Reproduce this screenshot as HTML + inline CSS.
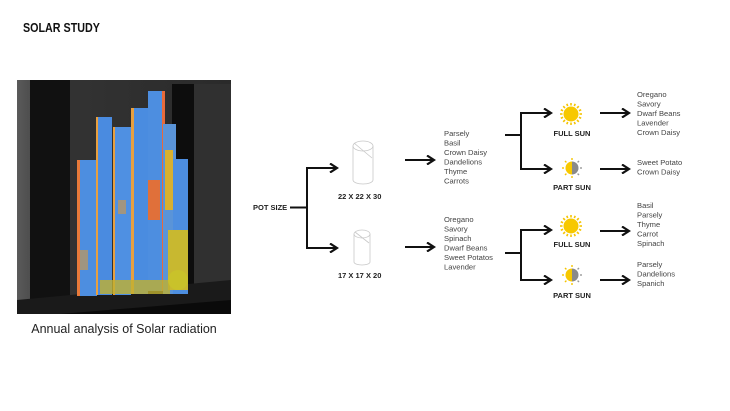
<!DOCTYPE html>
<html><head><meta charset="utf-8"><style>
html,body{margin:0;padding:0;background:#fff;}
body{width:730px;height:411px;overflow:hidden;position:relative;font-family:"Liberation Sans",sans-serif;}
svg{position:absolute;left:0;top:0;}
.l{font-size:7.6px;fill:#444;}
.b{font-size:7.5px;font-weight:bold;fill:#222;}
</style></head><body>
<svg width="730" height="411" viewBox="0 0 730 411">
<defs>
<linearGradient id="bg" x1="0" x2="1" y1="0" y2="0">
<stop offset="0" stop-color="#5a5a5a"/><stop offset="0.2" stop-color="#333"/><stop offset="1" stop-color="#2a2a2a"/>
</linearGradient>
<marker id="ah" markerWidth="10" markerHeight="10" refX="8" refY="5" orient="auto" markerUnits="userSpaceOnUse">
<path d="M1,0.5 L8,5 L1,9.5" fill="none" stroke="#111" stroke-width="2.2"/>
</marker>
<g id="sun">
<g stroke="#f5c400" stroke-width="1.6">
<line x1="0" y1="-11" x2="0" y2="-8.5"/><line x1="0" y1="11" x2="0" y2="8.5"/>
<line x1="-11" y1="0" x2="-8.5" y2="0"/><line x1="11" y1="0" x2="8.5" y2="0"/>
<line x1="-7.8" y1="-7.8" x2="-6" y2="-6"/><line x1="7.8" y1="7.8" x2="6" y2="6"/>
<line x1="-7.8" y1="7.8" x2="-6" y2="6"/><line x1="7.8" y1="-7.8" x2="6" y2="-6"/>
<line x1="-4.2" y1="-10.2" x2="-3.3" y2="-7.9"/><line x1="4.2" y1="-10.2" x2="3.3" y2="-7.9"/>
<line x1="-4.2" y1="10.2" x2="-3.3" y2="7.9"/><line x1="4.2" y1="10.2" x2="3.3" y2="7.9"/>
<line x1="-10.2" y1="-4.2" x2="-7.9" y2="-3.3"/><line x1="-10.2" y1="4.2" x2="-7.9" y2="3.3"/>
<line x1="10.2" y1="-4.2" x2="7.9" y2="-3.3"/><line x1="10.2" y1="4.2" x2="7.9" y2="3.3"/>
</g>
<circle r="7.5" fill="#f7c800"/>
</g>
<g id="psun">
<g stroke="#f5c400" stroke-width="1.4">
<line x1="0" y1="-10" x2="0" y2="-8"/><line x1="0" y1="10" x2="0" y2="8"/>
<line x1="-10" y1="0" x2="-8" y2="0"/>
<line x1="-7" y1="-7" x2="-5.6" y2="-5.6"/><line x1="-7" y1="7" x2="-5.6" y2="5.6"/>
</g>
<g stroke="#999" stroke-width="1.4">
<line x1="10" y1="0" x2="8" y2="0"/>
<line x1="7" y1="-7" x2="5.6" y2="-5.6"/><line x1="7" y1="7" x2="5.6" y2="5.6"/>
</g>
<path d="M0,-6.5 A6.5,6.5 0 0 0 0,6.5 Z" fill="#f7c800"/>
<path d="M0,-6.5 A6.5,6.5 0 0 1 0,6.5 Z" fill="#8a8a8a"/>
</g>
</defs>

<text x="23" y="32" font-size="12.5" font-weight="bold" fill="#111" transform="translate(23 0) scale(0.86 1) translate(-23 0)">SOLAR STUDY</text>

<!-- image -->
<rect x="17" y="80" width="214" height="234" fill="url(#bg)"/>
<rect x="30" y="80" width="40" height="234" fill="#111"/>
<rect x="172" y="84" width="22" height="230" fill="#0d0d0d"/>
<rect x="194" y="84" width="37" height="230" fill="#303030"/>
<polygon points="17,300 231,280 231,314 17,314" fill="#1a1a1a"/>
<polygon points="60,314 231,300 231,314" fill="#0a0a0a"/>
<g>
<rect x="77" y="160" width="20" height="136" fill="#4d8ee0"/>
<rect x="77" y="160" width="3" height="136" fill="#e87a3a"/>
<rect x="96" y="117" width="16" height="178" fill="#4a8be0"/>
<rect x="96" y="117" width="2" height="178" fill="#e8a040"/>
<rect x="113" y="127" width="18" height="168" fill="#4f90e2"/>
<rect x="113" y="127" width="2" height="168" fill="#e8a040"/>
<rect x="131" y="108" width="17" height="186" fill="#4a8ce0"/>
<rect x="131" y="108" width="3" height="186" fill="#e8a040"/>
<rect x="148" y="91" width="16" height="200" fill="#4d8ee0"/>
<rect x="162" y="91" width="3" height="200" fill="#e86a3a"/>
<rect x="163" y="124" width="13" height="170" fill="#5a94d8"/>
<rect x="173" y="159" width="15" height="135" fill="#4d8ee0"/>
<rect x="148" y="180" width="12" height="40" fill="#e0703a"/>
<rect x="165" y="150" width="8" height="60" fill="#d8b030"/>
<rect x="168" y="230" width="20" height="60" fill="#c8b830"/>
<rect x="100" y="280" width="70" height="14" fill="#c0b030" opacity="0.8"/>
<circle cx="178" cy="280" r="10" fill="#c9c22a"/>
<rect x="80" y="250" width="8" height="20" fill="#d89a40" opacity="0.6"/>
<rect x="118" y="200" width="8" height="14" fill="#d89a40" opacity="0.6"/>
</g>
<text x="124" y="333" font-size="12.5" fill="#222" text-anchor="middle">Annual analysis of Solar radiation</text>

<!-- left tree -->
<text x="253" y="210" class="b">POT SIZE</text>
<g fill="none" stroke="#111" stroke-width="2">
<line x1="290" y1="207.5" x2="307" y2="207.5"/>
<polyline points="335,168 307,168 307,248 335,248" stroke-linejoin="miter"/>
</g>
<g stroke="#111" stroke-width="2" fill="none">
<line x1="307" y1="168" x2="337" y2="168" marker-end="url(#ah)"/>
<line x1="307" y1="248" x2="337" y2="248" marker-end="url(#ah)"/>
<line x1="405" y1="160" x2="434" y2="160" marker-end="url(#ah)"/>
<line x1="405" y1="247" x2="434" y2="247" marker-end="url(#ah)"/>
</g>
<!-- cylinders -->
<g fill="none" stroke="#c8c8c8" stroke-width="0.8">
<ellipse cx="363" cy="146" rx="10" ry="5"/><line x1="353" y1="146" x2="353" y2="180"/><line x1="373" y1="146" x2="373" y2="180"/>
<path d="M353,180 A10,4 0 0 0 373,180"/><path d="M354,143 L372,158"/>
<ellipse cx="362" cy="234" rx="8" ry="4"/><line x1="354" y1="234" x2="354" y2="262"/><line x1="370" y1="234" x2="370" y2="262"/>
<path d="M354,262 A8,3 0 0 0 370,262"/><path d="M355,232 L369,243"/>
</g>
<text x="338" y="199" class="b">22 X 22 X 30</text>
<text x="338" y="278" class="b">17 X 17 X 20</text>

<text class="l"><tspan x="444" y="136">Parsely</tspan><tspan x="444" y="145.5">Basil</tspan><tspan x="444" y="155">Crown Daisy</tspan><tspan x="444" y="164.5">Dandelions</tspan><tspan x="444" y="174">Thyme</tspan><tspan x="444" y="183.5">Carrots</tspan></text>
<text class="l"><tspan x="444" y="222">Oregano</tspan><tspan x="444" y="231.5">Savory</tspan><tspan x="444" y="241">Spinach</tspan><tspan x="444" y="250.5">Dwarf Beans</tspan><tspan x="444" y="260">Sweet Potatos</tspan><tspan x="444" y="269.5">Lavender</tspan></text>

<!-- right trees -->
<g fill="none" stroke="#111" stroke-width="2">
<line x1="505" y1="135" x2="521" y2="135"/>
<polyline points="548,113 521,113 521,169 548,169"/>
<line x1="505" y1="253" x2="521" y2="253"/>
<polyline points="548,230 521,230 521,280 548,280"/>
</g>
<g stroke="#111" stroke-width="2">
<line x1="521" y1="113" x2="551" y2="113" marker-end="url(#ah)"/>
<line x1="521" y1="169" x2="551" y2="169" marker-end="url(#ah)"/>
<line x1="521" y1="230" x2="551" y2="230" marker-end="url(#ah)"/>
<line x1="521" y1="280" x2="551" y2="280" marker-end="url(#ah)"/>
<line x1="600" y1="113" x2="629" y2="113" marker-end="url(#ah)"/>
<line x1="600" y1="169" x2="629" y2="169" marker-end="url(#ah)"/>
<line x1="600" y1="231" x2="629" y2="231" marker-end="url(#ah)"/>
<line x1="600" y1="280" x2="629" y2="280" marker-end="url(#ah)"/>
</g>
<use href="#sun" x="571" y="114"/>
<use href="#psun" x="572" y="168"/>
<use href="#sun" x="571" y="226"/>
<use href="#psun" x="572" y="275"/>
<text x="572" y="136" class="b" text-anchor="middle">FULL SUN</text>
<text x="572" y="190" class="b" text-anchor="middle">PART SUN</text>
<text x="572" y="247" class="b" text-anchor="middle">FULL SUN</text>
<text x="572" y="298" class="b" text-anchor="middle">PART SUN</text>

<text class="l"><tspan x="637" y="97">Oregano</tspan><tspan x="637" y="106.5">Savory</tspan><tspan x="637" y="116">Dwarf Beans</tspan><tspan x="637" y="125.5">Lavender</tspan><tspan x="637" y="135">Crown Daisy</tspan></text>
<text class="l"><tspan x="637" y="165">Sweet Potato</tspan><tspan x="637" y="174.5">Crown Daisy</tspan></text>
<text class="l"><tspan x="637" y="208">Basil</tspan><tspan x="637" y="217.5">Parsely</tspan><tspan x="637" y="227">Thyme</tspan><tspan x="637" y="236.5">Carrot</tspan><tspan x="637" y="246">Spinach</tspan></text>
<text class="l"><tspan x="637" y="267">Parsely</tspan><tspan x="637" y="276.5">Dandelions</tspan><tspan x="637" y="286">Spanich</tspan></text>
</svg>
</body></html>
